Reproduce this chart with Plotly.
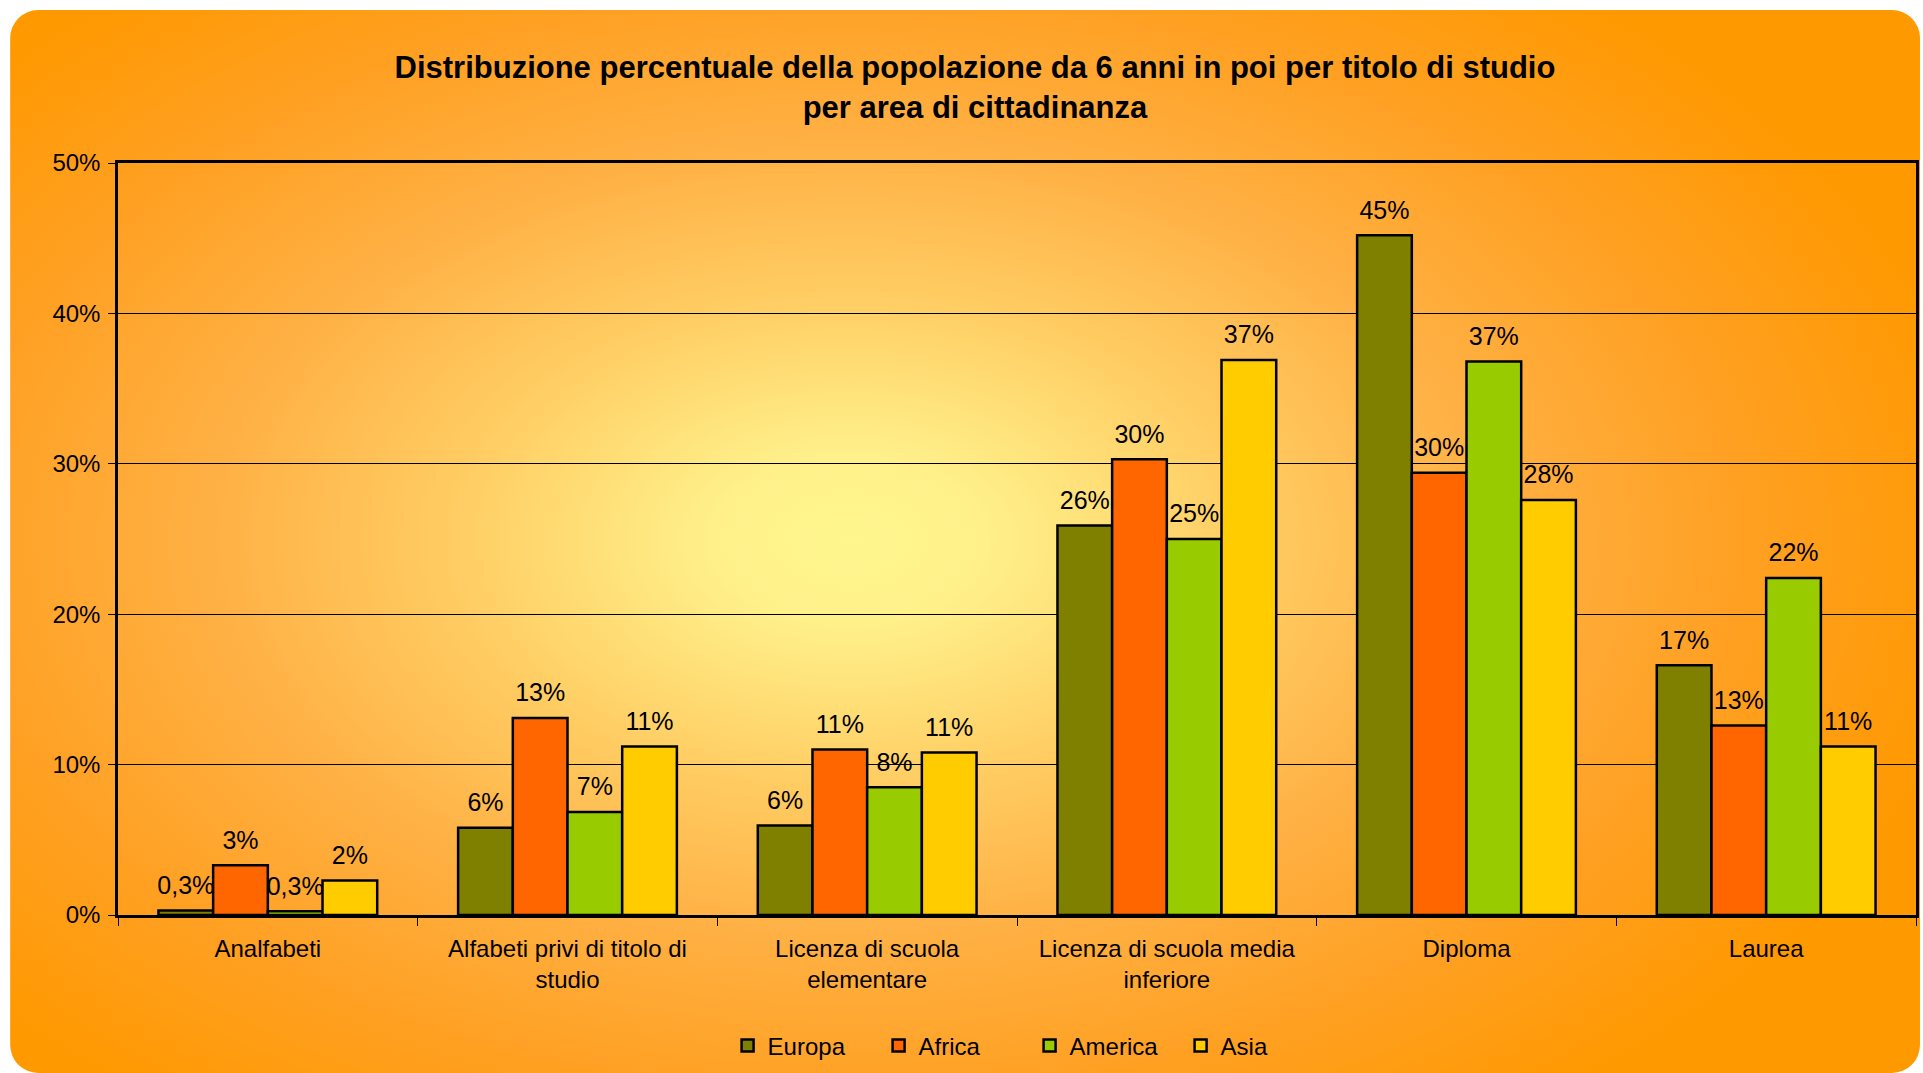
import base64
import plotly.graph_objects as go

categories = ["Analfabeti", "Alfabeti privi di titolo di<br>studio", "Licenza di scuola<br>elementare",
              "Licenza di scuola media<br>inferiore", "Diploma", "Laurea"]
series_names = ["Europa", "Africa", "America", "Asia"]
europa = [0.3, 5.8, 5.95, 25.9, 45.2, 16.6]
africa = [3.3, 13.1, 11.0, 30.3, 29.4, 12.6]
america = [0.25, 6.85, 8.5, 25.0, 36.8, 22.4]
asia = [2.3, 11.2, 10.8, 36.9, 27.6, 11.2]
europa_lbl = ["0,3%", "6%", "6%", "26%", "45%", "17%"]
africa_lbl = ["3%", "13%", "11%", "30%", "30%", "13%"]
america_lbl = ["0,3%", "7%", "8%", "25%", "37%", "22%"]
asia_lbl = ["2%", "11%", "11%", "37%", "28%", "11%"]
colors = ["#808000", "#FF6600", "#99CC00", "#FFCC00"]

values = [europa, africa, america, asia]
labels = [europa_lbl, africa_lbl, america_lbl, asia_lbl]

W, H = 1923, 1073
ml, mr, mt, mb = 118, 4, 163, 158
pw, ph = W - ml - mr, H - mt - mb
font = "Liberation Sans, Arial, sans-serif"

# background panel: rounded rect with radial gradient, as an svg image
svg = f'''<svg xmlns="http://www.w3.org/2000/svg" width="{W}" height="{H}" viewBox="0 0 {W} {H}">
<defs><radialGradient id="g" gradientUnits="userSpaceOnUse" cx="850" cy="540" r="1150"
 gradientTransform="translate(850 540) scale(1 0.62) translate(-850 -540)">
<stop offset="0" stop-color="#FFF68E"/><stop offset="0.12" stop-color="#FFF08A"/>
<stop offset="0.35" stop-color="#FFCC62"/><stop offset="0.55" stop-color="#FFB145"/>
<stop offset="0.78" stop-color="#FFA022"/><stop offset="1" stop-color="#FF9900"/>
</radialGradient></defs>
<rect x="10" y="10" width="{W - 10}" height="{H - 10}" rx="28" ry="28" fill="url(#g)"/>
</svg>'''
src = "data:image/svg+xml;base64," + base64.b64encode(svg.encode()).decode()

fig = go.Figure()
for name, vals, col in zip(series_names, values, colors):
    fig.add_trace(go.Bar(x=categories, y=vals, name=name, offsetgroup=name,
                         marker=dict(color=col, line=dict(color="black", width=2.5))))
# value labels, grouped like the bars, lifted a bit above each bar
for name, vals, lbl in zip(series_names, values, labels):
    fig.add_trace(go.Scatter(x=categories, y=vals, text=lbl, mode="markers+text", offsetgroup=name,
                             marker=dict(size=15, color="rgba(0,0,0,0)"),
                             textposition="top center", showlegend=False, cliponaxis=False,
                             textfont=dict(size=25, color="black", family=font), hoverinfo="skip"))

fig.update_layout(
    width=W, height=H,
    margin=dict(l=ml, r=mr, t=mt, b=mb),
    paper_bgcolor="white", plot_bgcolor="rgba(0,0,0,0)",
    font=dict(family=font, size=24, color="black"),
    barmode="group", bargap=0.27, bargroupgap=0,
    scattermode="group", scattergap=0.27,
    title=dict(text="<b>Distribuzione percentuale della popolazione da 6 anni in poi per titolo di studio<br>per area di cittadinanza</b>",
               x=0.507, xanchor="center", y=1 - 78 / H, yanchor="middle",
               font=dict(size=31, family=font)),
    legend=dict(orientation="h", x=0.507, xanchor="center", y=-(1046 - 915) / ph, yanchor="middle",
                font=dict(size=24), bgcolor="rgba(0,0,0,0)", traceorder="normal",
                itemwidth=30, entrywidth=106),
    images=[dict(source=src, xref="paper", yref="paper", x=-ml / pw, y=1 + mt / ph,
                 sizex=W / pw, sizey=H / ph, xanchor="left", yanchor="top",
                 sizing="stretch", layer="below")],
    xaxis=dict(showline=True, linecolor="black", linewidth=2.5, mirror=True,
               ticks="outside", tickson="boundaries", ticklen=8, tickcolor="black",
               ticklabelstandoff=10, showgrid=False),
    yaxis=dict(range=[0, 50], dtick=10, ticksuffix="%", showline=True, linecolor="black",
               linewidth=2.5, mirror=True, ticks="outside", ticklen=7, tickcolor="black",
               ticklabelstandoff=3, showgrid=True, gridcolor="black", gridwidth=1,
               zeroline=False),
)

fig.write_html("out.html", config={"displayModeBar": False},
               post_script="document.body.style.margin='0';document.body.style.overflow='hidden';")
